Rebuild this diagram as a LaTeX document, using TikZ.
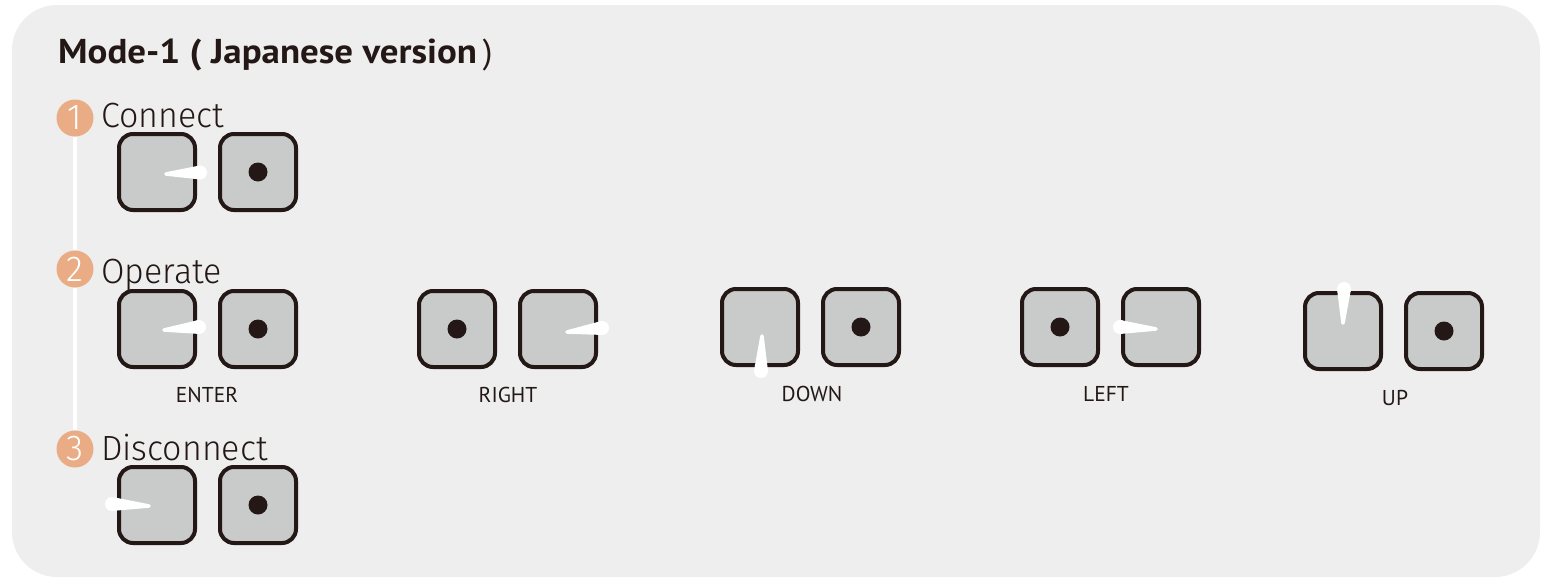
\documentclass[tikz,border=0pt]{standalone}
\usepackage{fontspec}
\setmainfont{PT Sans}
\newfontfamily\titlefont{PT Sans Bold}[FakeStretch=1.07]
\newfontfamily\thinfont{Fira Sans Light}[FakeStretch=0.97]
\usetikzlibrary{positioning,calc}
\definecolor{panel}{RGB}{238,238,238}
\definecolor{keyfill}{RGB}{201,202,202}
\definecolor{keyline}{RGB}{35,24,21}
\definecolor{numfill}{RGB}{234,172,132}
\newcommand{\flick}[2]{%
\fill[white]($(#1)!7pt!90:(#2)$)--($(#2)!1.8pt!-90:(#1)$)--($(#2)!1.8pt!90:(#1)$)--($(#1)!7pt!-90:(#2)$)--cycle;
\fill[white](#1)circle(7)(#2)circle(1.8);}
\begin{document}
\begin{tikzpicture}[x=1pt,y=-1pt,node distance=21pt,
keybox/.style={rectangle,rounded corners=14pt,minimum width=76pt,minimum height=76pt,inner sep=0pt,line width=4pt,draw=keyline,fill=keyfill},
stepnum/.style={circle,fill=numfill,minimum size=37pt,inner sep=0pt,text=white,font=\thinfont\fontsize{36}{36}\selectfont},
steplabel/.style={anchor=base west,inner sep=0pt,text=keyline,font=\thinfont\fontsize{35}{35}\selectfont},
keylabel/.style={text=keyline,font=\fontsize{21.5}{21.5}\selectfont}]
\useasboundingbox(0,0)rectangle(1551,587);
\fill[panel,rounded corners=45pt](12,5)rectangle(1540,577);
\node[anchor=base west,inner sep=0pt,text=keyline,font=\titlefont\fontsize{34.5}{34.5}\selectfont](title)at(58,63){Mode-1 ( Japanese version{\rmfamily\mdseries\,)}};
% steps
\node[stepnum](n1)at(75,118){1};
\node[stepnum](n2)at(75,269){2};
\node[stepnum](n3)at(75,449){3};
\draw[white,line width=3.5pt](n1)--(n2)(n2)--(n3);
\node[steplabel](t1)at(101,127){Connect};
\node[steplabel](t2)at(101,283){Operate};
\node[steplabel](t3)at(101,460){Disconnect};
% keys
\node[keybox](conL)at(157,172){};
\node[keybox,right=of conL](conR){};
\node[keybox](entL)at(157,329){};
\node[keybox,right=of entL](entR){};
\node[keybox](rgtL)at(457,329){};
\node[keybox,right=of rgtL](rgtR){};
\node[keybox](dwnL)at(760,327){};
\node[keybox,right=of dwnL](dwnR){};
\node[keybox](lftL)at(1060,327){};
\node[keybox,right=of lftL](lftR){};
\node[keybox](upL)at(1343,331){};
\node[keybox,right=of upL](upR){};
\node[keybox](disL)at(157,505){};
\node[keybox,right=of disL](disR){};
\foreach \k in {conR,entR,rgtL,dwnR,lftL,upR,disR}
\fill[keyline](\k.center)circle(9.5);
\node[keylabel](entT)at(207,395){ENTER};
\node[keylabel](rgtT)at(508,395){RIGHT};
\node[keylabel](dwnT)at(812,394){DOWN};
\node[keylabel](lftT)at(1106,394){LEFT};
\node[keylabel](upT)at(1395,398){UP};
% flicks
\flick{200,172.5}{166,174}
\flick{199,327}{164,330}
\flick{602,328}{567,332}
\flick{761,371}{762,336}
\flick{1120,327}{1156,329}
\flick{1344,289}{1343,323}
\flick{112,504}{149,506}
\end{tikzpicture}
\end{document}
